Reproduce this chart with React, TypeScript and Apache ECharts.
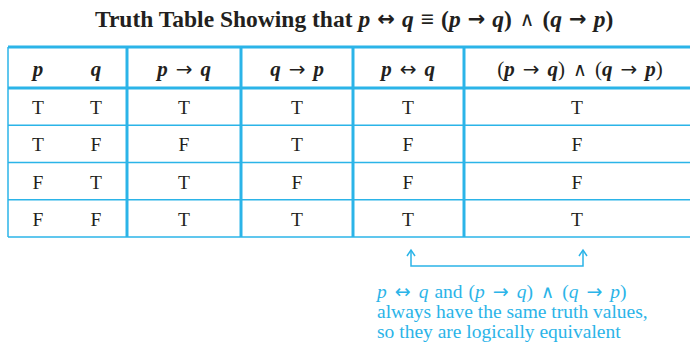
import React, { useEffect, useRef } from "react";
import * as echarts from "echarts";

// Header labels: rich-text parts, i = italic variable, o = operator, a = arrow (padded), v = wedge
const headers: string[] = [
  "{i|p}",
  "{i|q}",
  "{i|p}{a|→}{i|q}",
  "{i|q}{a|→}{i|p}",
  "{i|p}{a|↔}{i|q}",
  "{o|(}{i|p}{a|→}{i|q}{o|)}{v|∧}{o|(}{i|q}{a|→}{i|p}{o|)}",
];
const colP = ["T", "T", "F", "F"];
const colQ = ["T", "F", "T", "F"];
const colPimpQ = ["T", "F", "T", "T"];
const colQimpP = ["T", "T", "F", "T"];
const colBicond = ["T", "F", "F", "T"];
const colConj = ["T", "F", "F", "T"];
const titleText =
  "{b|Truth Table Showing that}{i|\u00A0p}{a|↔}{i|q}{w|≡}{o|(}{i|p}{a|→}{i|q}{o|)}{v|∧}{o|(}{i|q}{a|→}{i|p}{o|)}";
const noteLines = [
  "{ni|p}{na|↔}{ni|q}{w|and}{n|(}{ni|p}{na|→}{ni|q}{n|)}{v|∧}{n|(}{ni|q}{na|→}{ni|p}{n|)}",
  "always have the same truth values,",
  "so they are logically equivalent",
];

export default function App() {
  const ref = useRef<HTMLDivElement>(null);
  useEffect(() => {
    const chart = echarts.init(ref.current!, null, { renderer: "svg" });
    const blue = "#2bb4e8";
    const ink = "#231f20";
    const font = "'Liberation Serif', 'DejaVu Serif', serif";
    const arrowFont = "'DejaVu Sans', sans-serif";
    const columns = [colP, colQ, colPimpQ, colQimpP, colBicond, colConj];
    const centers = [38, 96, 184, 297, 408, 580];
    const vlines = [127, 241, 353, 464];
    const left = 8;
    const right = 690;
    const top = 47;
    const headBottom = 88;
    const rowH = 37.25;
    const nRows = colP.length;
    const bottom = headBottom + rowH * nRows;

    const cellRich = {
      i: { fontFamily: font, fontStyle: "italic", fontWeight: "bold", fontSize: 21, fill: ink },
      o: { fontFamily: font, fontSize: 21, fill: ink },
      v: { fontFamily: arrowFont, fontWeight: "normal", fontSize: 19, fill: ink, padding: [0, 8, 0, 8] },
      a: { fontFamily: arrowFont, fontSize: 20, fill: ink, padding: [0, 8, 0, 8] },
    };
    const els: any[] = [];
    // title
    els.push({
      type: "text",
      x: 354,
      y: 19,
      style: {
        text: titleText,
        align: "center",
        verticalAlign: "middle",
        fill: ink,
        rich: {
          b: { fontFamily: font, fontWeight: "bold", fontSize: 23.5, fill: ink },
          i: { fontFamily: font, fontStyle: "italic", fontWeight: "bold", fontSize: 23.5, fill: ink },
          o: { fontFamily: font, fontWeight: "bold", fontSize: 23.5, fill: ink },
          w: { fontFamily: font, fontWeight: "bold", fontSize: 23.5, fill: ink, padding: [0, 7, 0, 7] },
          v: { fontFamily: arrowFont, fontWeight: "normal", fontSize: 20, fill: ink, padding: [0, 8, 0, 8] },
          a: { fontFamily: arrowFont, fontWeight: "bold", fontSize: 21, fill: ink, padding: [0, 7, 0, 7] },
        },
      },
    });
    // horizontal lines
    els.push({ type: "line", shape: { x1: left, y1: top, x2: right, y2: top }, style: { stroke: blue, lineWidth: 3 } });
    els.push({ type: "line", shape: { x1: left, y1: headBottom, x2: right, y2: headBottom }, style: { stroke: blue, lineWidth: 3 } });
    for (let r = 1; r <= nRows; r++) {
      const y = headBottom + rowH * r;
      els.push({ type: "line", shape: { x1: left, y1: y, x2: right, y2: y }, style: { stroke: blue, lineWidth: 1.5 } });
    }
    // vertical lines
    els.push({ type: "line", shape: { x1: left, y1: top, x2: left, y2: bottom }, style: { stroke: blue, lineWidth: 1.5 } });
    vlines.forEach((x) =>
      els.push({ type: "line", shape: { x1: x, y1: top, x2: x, y2: bottom }, style: { stroke: blue, lineWidth: 3 } })
    );
    // headers
    headers.forEach((h, c) =>
      els.push({
        type: "text",
        x: centers[c],
        y: (top + headBottom) / 2 + 1,
        style: { text: h, align: "center", verticalAlign: "middle", rich: cellRich },
      })
    );
    // cells
    columns.forEach((col, c) =>
      col.forEach((v, r) =>
        els.push({
          type: "text",
          x: c === 5 ? 577 : centers[c],
          y: headBottom + rowH * r + rowH / 2 + 1,
          style: {
            text: v,
            align: "center",
            verticalAlign: "middle",
            fontFamily: font,
            fontSize: 19.5,
            fill: ink,
          },
        })
      )
    );
    // bracket arrows
    const ax1 = 411;
    const ax2 = 583;
    const ay1 = 250;
    const ay2 = 266;
    els.push({
      type: "polyline",
      shape: { points: [[ax1, ay1], [ax1, ay2], [ax2, ay2], [ax2, ay1]] },
      style: { stroke: blue, lineWidth: 1.5, fill: null },
    });
    [ax1, ax2].forEach((x) =>
      els.push({
        type: "polyline",
        shape: { points: [[x - 4, ay1 + 6], [x, ay1], [x + 4, ay1 + 6]] },
        style: { stroke: blue, lineWidth: 1.5, fill: null },
      })
    );
    // note text
    noteLines.forEach((t, i) =>
      els.push({
        type: "text",
        x: 377,
        y: 291 + i * 20,
        style: {
          text: t,
          align: "left",
          verticalAlign: "middle",
          fontFamily: font,
          fontSize: 19.5,
          fill: blue,
          rich: {
            n: { fontFamily: font, fontSize: 19.5, fill: blue },
            w: { fontFamily: font, fontSize: 19.5, fill: blue, padding: [0, 6, 0, 6] },
            v: { fontFamily: arrowFont, fontWeight: "normal", fontSize: 18, fill: blue, padding: [0, 8, 0, 8] },
            ni: { fontFamily: font, fontSize: 19.5, fontStyle: "italic", fill: blue },
            na: { fontFamily: arrowFont, fontSize: 19, fill: blue, padding: [0, 8, 0, 8] },
          },
        },
      })
    );

    chart.setOption({ animation: false, graphic: els });
    return () => chart.dispose();
  }, []);
  return <div ref={ref} style={{ width: 690, height: 345, position: "absolute", left: 0, top: 0 }} />;
}
